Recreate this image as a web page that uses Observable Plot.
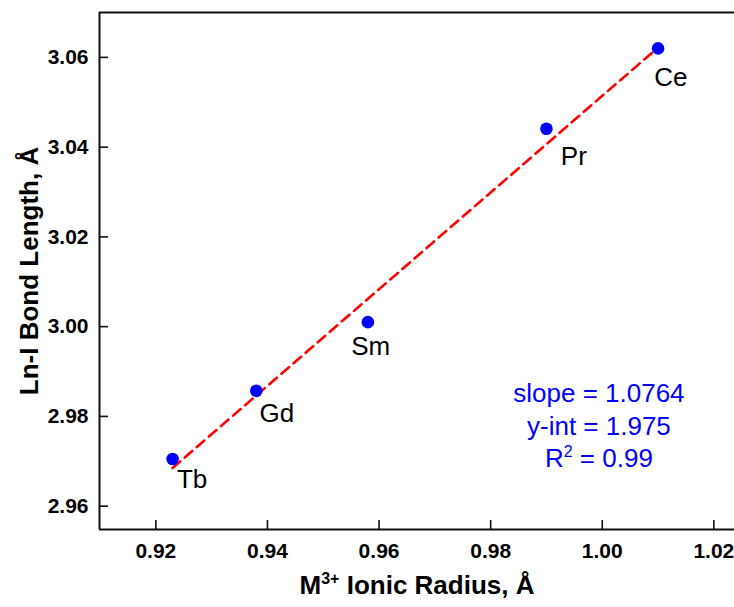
<!DOCTYPE html>
<html>
<head>
<meta charset="utf-8">
<script src="https://cdn.jsdelivr.net/npm/d3@7"></script>
<script src="https://cdn.jsdelivr.net/npm/@observablehq/plot@0.6"></script>
<style>
  html, body { margin: 0; padding: 0; background: #fff; }
  #chart svg { display: block; }
  g[aria-label="x-axis tick label"], g[aria-label="y-axis tick label"] { font-weight: bold; }
</style>
</head>
<body>
<div id="chart"></div>
<script>
// ---- data ----
const elements   = ["Tb", "Gd", "Sm", "Pr", "Ce"];
const radius     = [0.923, 0.938, 0.958, 0.990, 1.010];       // M3+ ionic radius, Å
const bondLength = [2.9705, 2.9857, 3.001, 3.0441, 3.062];    // Ln-I bond length, Å
const labelX     = [0.9265, 0.9417, 0.9585, 0.9949, 1.0123];  // label anchor positions
const labelY     = [2.9658, 2.9805, 2.9956, 3.0379, 3.0555];
const fitX       = [0.923, 1.010];                            // linear fit endpoints
const fitY       = [2.9685, 3.0622];
const xTicks     = [0.92, 0.94, 0.96, 0.98, 1.00, 1.02];
const yTicks     = [2.96, 2.98, 3.00, 3.02, 3.04, 3.06];
const xDomain    = [0.9099, 1.0237];
const yDomain    = [2.9548, 3.07];
const statLines  = ["slope = 1.0764", "y-int = 1.975", "R2 = 0.99"];
const statX      = 0.9994;
const statY      = [2.9851, 2.9777, 2.9706];
const xTitle     = "M3+ Ionic Radius, Å";
const yTitle     = "Ln-I Bond Length, Å";

const points = elements.map((e, i) => ({e, x: radius[i], y: bondLength[i], lx: labelX[i], ly: labelY[i]}));
const fit = fitX.map((x, i) => ({x, y: fitY[i]}));
const stats = statLines.map((t, i) => ({t, x: statX, y: statY[i]}));

const font = "'Liberation Sans', Arial, Helvetica, sans-serif";

const svg = Plot.plot({
  width: 734,
  height: 607,
  marginLeft: 99,
  marginRight: 0,
  marginTop: 12,
  marginBottom: 78,
  style: {fontFamily: font, background: "#fff", color: "#000", overflow: "visible"},
  x: {domain: xDomain, label: null},
  y: {domain: yDomain, label: null},
  marks: [
    Plot.ruleY([yDomain[0]], {stroke: "#111", strokeWidth: 2}),
    Plot.ruleY([yDomain[1]], {stroke: "#111", strokeWidth: 2}),
    Plot.ruleX([xDomain[0]], {stroke: "#111", strokeWidth: 2}),
    Plot.axisX(xTicks, {tickSize: -9, tickPadding: 23, tickFormat: d => d.toFixed(2),
      fontSize: 21, fontWeight: "bold", stroke: "#111", strokeWidth: 1.6, label: null}),
    Plot.axisY(yTicks, {tickSize: -9, tickPadding: 20, tickFormat: d => d.toFixed(2),
      fontSize: 21, fontWeight: "bold", stroke: "#111", strokeWidth: 1.6, label: null}),
    Plot.line(fit, {x: "x", y: "y", stroke: "#ff0000", strokeWidth: 2.6, strokeDasharray: "10,6"}),
    Plot.dot(points, {x: "x", y: "y", r: 6.3, fill: "#0000ff", stroke: "none"}),
    Plot.text(points, {x: "lx", y: "ly", text: "e", fontSize: 26, fill: "#000"}),
    Plot.text(stats, {x: "x", y: "y", text: "t", fontSize: 26, fill: "#0000ff"}),
    Plot.text([xTitle], {frameAnchor: "bottom", dy: 64, textAnchor: "middle", text: d => d, fontSize: 26, fontWeight: "bold", fill: "#000"}),
    Plot.text([yTitle], {frameAnchor: "left", dx: -70, textAnchor: "middle", rotate: -90, text: d => d, fontSize: 26, fontWeight: "bold", fill: "#000"})
  ]
});

// superscripts
d3.select(svg).selectAll("text").each(function() {
  const t = this.textContent;
  const sel = d3.select(this);
  if (t === xTitle) {
    sel.text(null);
    sel.append("tspan").text("M");
    sel.append("tspan").attr("dy", -10).attr("font-size", 16).text("3+");
    sel.append("tspan").attr("dy", 10).text(" Ionic Radius, Å");
  } else if (t === "R2 = 0.99") {
    sel.text(null);
    sel.append("tspan").text("R");
    sel.append("tspan").attr("dy", -10).attr("font-size", 16).text("2");
    sel.append("tspan").attr("dy", 10).text(" = 0.99");
  }
});

document.getElementById("chart").appendChild(svg);
</script>
</body>
</html>
